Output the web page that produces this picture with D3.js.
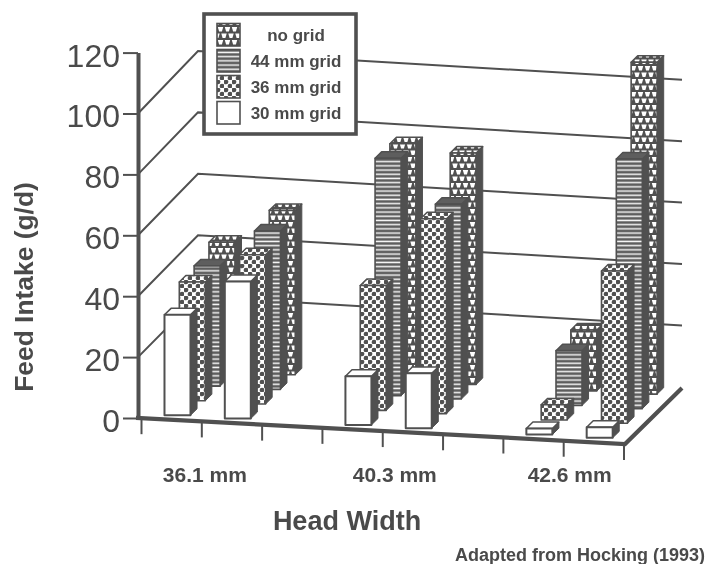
<!DOCTYPE html>
<html>
<head>
<meta charset="utf-8">
<script src="https://d3js.org/d3.v7.min.js"></script>
<style>
html,body{margin:0;padding:0;background:#fff;}
svg{display:block;filter:blur(0.35px);}
text{font-family:"Liberation Sans",Arial,sans-serif;fill:#4a4a4a;}
</style>
</head>
<body>
<svg id="chart" width="708" height="564"></svg>
<script>
// DATA -------------------------------------------------------------
const seriesNames = ["no grid", "44 mm grid", "36 mm grid", "30 mm grid"];
// one value per bar cluster, left to right: two clusters per head width
const noGrid  = [42.5, 54, 78, 76, 20, 109];
const grid44  = [39.5, 52, 78, 64, 18, 82];
const grid36  = [39, 49, 41, 64, 5, 50];
const grid30  = [33, 45, 16, 18, 2, 3.5];
const clusterSlots = [0, 1, 3, 4, 6, 7];
const headWidths = ["36.1 mm", "40.3 mm", "42.6 mm"];
const yTicks = [0, 20, 40, 60, 80, 100, 120];
const gridTicks = [20, 40, 60, 80, 100];
const slots = [0, 1, 2, 3, 4, 5, 6, 7];
const axisTitleY = "Feed Intake (g/d)";
const axisTitleX = "Head Width";
const credit = "Adapted from Hocking (1993)";

// SCALES -----------------------------------------------------------
const INK = "#505050";
const svg = d3.select("#chart");
const y = d3.scaleLinear().domain([0, 120]).range([418, 52.6]);
const height = v => y(0) - y(v);
const floorY = d3.scaleLinear().domain([138, 625]).range([418, 444]);
const x = d3.scaleBand().domain(slots).range([141.5, 624]);
const depth = d3.scaleLinear().domain([0, 1]).range([0, 57]);
const depthY = d3.scaleLinear().domain([0, 1]).range([0, 56]);
const seriesDepth = d3.scalePoint().domain([3, 2, 1, 0]).range([0.07, 0.85]);
const wallX = d3.scaleLinear().domain([0, 1]).range([198, 682]);
const wallBase = d3.scaleLinear().domain([0, 1]).range([358, 386.8]);
const wallH = d3.scaleLinear().domain([0, 120]).range([0, 368.4]);
const barWidth = 26, barDepth = 0.115;

// PATTERNS ---------------------------------------------------------
const defs = svg.append("defs");
const pTri = defs.append("pattern").attr("id", "pNo").attr("patternUnits", "userSpaceOnUse")
  .attr("width", 14).attr("height", 13);
pTri.append("rect").attr("width", 14).attr("height", 13).attr("fill", INK);
[[3.5, 1], [10.5, 1], [0, 7.5], [7, 7.5], [14, 7.5]].forEach(([cx, cy]) => {
  pTri.append("path").attr("d", `M${cx - 2.7},${cy} h5.4 l-1.3,4.4 h-2.8 z`).attr("fill", "#fff");
});
const pLine = defs.append("pattern").attr("id", "p44").attr("patternUnits", "userSpaceOnUse")
  .attr("width", 8).attr("height", 4.2);
pLine.append("rect").attr("width", 8).attr("height", 4.2).attr("fill", "#5e5e5e");
pLine.append("rect").attr("y", 1.3).attr("width", 8).attr("height", 1.5).attr("fill", "#f4f4f4");
const pDot = defs.append("pattern").attr("id", "p36").attr("patternUnits", "userSpaceOnUse")
  .attr("width", 8).attr("height", 8);
pDot.append("rect").attr("width", 8).attr("height", 8).attr("fill", "#fff");
[[2, 2], [6, 6]].forEach(([cx, cy]) => {
  pDot.append("circle").attr("cx", cx).attr("cy", cy).attr("r", 2.35).attr("fill", INK);
});
const fills = ["url(#pNo)", "url(#p44)", "url(#p36)", "#fff"];

// WALLS ------------------------------------------------------------
const walls = svg.append("g").attr("fill", "none").attr("stroke", INK).attr("stroke-width", 2);
gridTicks.forEach(v => {
  walls.append("path").attr("d", d3.line()([
    [138, y(v)],
    [wallX(0), wallBase(0) - wallH(v)],
    [wallX(1), wallBase(1) - wallH(v)]
  ]));
});

// BARS -------------------------------------------------------------
const seriesValues = [noGrid, grid44, grid36, grid30];
const bars = svg.append("g");
seriesValues.forEach((values, s) => {
  values.forEach((v, c) => {
    const x0 = x(clusterSlots[c]) + 19;
    const d = seriesDepth(s);
    const px = x0 + depth(d);
    const base = floorY(x0) - depthY(d);
    const top = base - height(v);
    const ox = depth(barDepth), oy = depthY(barDepth);
    const g = bars.append("g").attr("stroke", INK).attr("stroke-linejoin", "round");
    // right side
    g.append("path").attr("fill", INK).attr("stroke-width", 1)
      .attr("d", d3.line()([[px + barWidth, top], [px + barWidth + ox, top - oy], [px + barWidth + ox, base - oy], [px + barWidth, base]]) + "Z");
    // top
    g.append("path").attr("fill", s === 1 ? "#5e5e5e" : fills[s]).attr("stroke-width", 1.5)
      .attr("d", d3.line()([[px, top], [px + ox, top - oy], [px + barWidth + ox, top - oy], [px + barWidth, top]]) + "Z");
    // front
    g.append("rect").attr("x", px).attr("y", top).attr("width", barWidth).attr("height", height(v))
      .attr("fill", fills[s]).attr("stroke-width", s === 3 ? 2 : 1.6);
  });
});

// AXES -------------------------------------------------------------
const axisG = svg.append("g").attr("transform", "translate(138,0)")
  .call(d3.axisLeft(y).tickValues(yTicks).tickFormat(d3.format("d")).tickSize(15).tickSizeOuter(0).tickPadding(3));
axisG.select(".domain").attr("stroke", INK).attr("stroke-width", 4);
axisG.selectAll(".tick line").attr("stroke", INK).attr("stroke-width", 2);
axisG.selectAll(".tick text").attr("font-size", 32).attr("font-family", '"Liberation Sans",Arial,sans-serif')
  .attr("fill", "#4a4a4a").attr("dy", "0.42em");

const frame = svg.append("g").attr("fill", "none").attr("stroke", INK);
frame.append("path").attr("stroke-width", 4.2).attr("stroke-linejoin", "miter")
  .attr("d", d3.line()([[136, floorY(136)], [625, floorY(625)], [682, 388]]));
const xTicks = slots.concat([8]);
xTicks.forEach(i => {
  const tx = i < 8 ? x(i) : x.range()[1];
  frame.append("line").attr("stroke-width", 2)
    .attr("x1", tx).attr("x2", tx).attr("y1", floorY(tx)).attr("y2", floorY(tx) + 16);
});

// CATEGORY LABELS --------------------------------------------------
const labelNudge = [3, 12, 6];
headWidths.forEach((t, i) => {
  svg.append("text").attr("x", x(i * 3 + 1) + labelNudge[i]).attr("y", 482)
    .attr("text-anchor", "middle").attr("font-weight", "bold").attr("font-size", 21).text(t);
});
svg.append("text").attr("x", 347).attr("y", 530).attr("text-anchor", "middle")
  .attr("font-weight", "bold").attr("font-size", 27).text(axisTitleX);
svg.append("text").attr("transform", "translate(33,287) rotate(-90)").attr("text-anchor", "middle")
  .attr("font-weight", "bold").attr("font-size", 26.4).text(axisTitleY);
svg.append("text").attr("x", 705).attr("y", 561).attr("text-anchor", "end")
  .attr("font-weight", "bold").attr("font-size", 18).text(credit);

// LEGEND -----------------------------------------------------------
const legend = svg.append("g");
legend.append("rect").attr("x", 204).attr("y", 14).attr("width", 152).attr("height", 120)
  .attr("fill", "#fff").attr("stroke", INK).attr("stroke-width", 3.6);
const legendY = d3.scaleBand().domain(seriesNames).range([22, 126]);
seriesNames.forEach((name, i) => {
  const yy = legendY(name);
  legend.append("rect").attr("x", 217).attr("y", yy + 1.5).attr("width", 23).attr("height", 22.5)
    .attr("fill", fills[i]).attr("stroke", INK).attr("stroke-width", 1.6);
  legend.append("text").attr("x", 296).attr("y", yy + 19).attr("text-anchor", "middle")
    .attr("font-weight", "bold").attr("font-size", 17).text(name);
});
</script>
</body>
</html>
